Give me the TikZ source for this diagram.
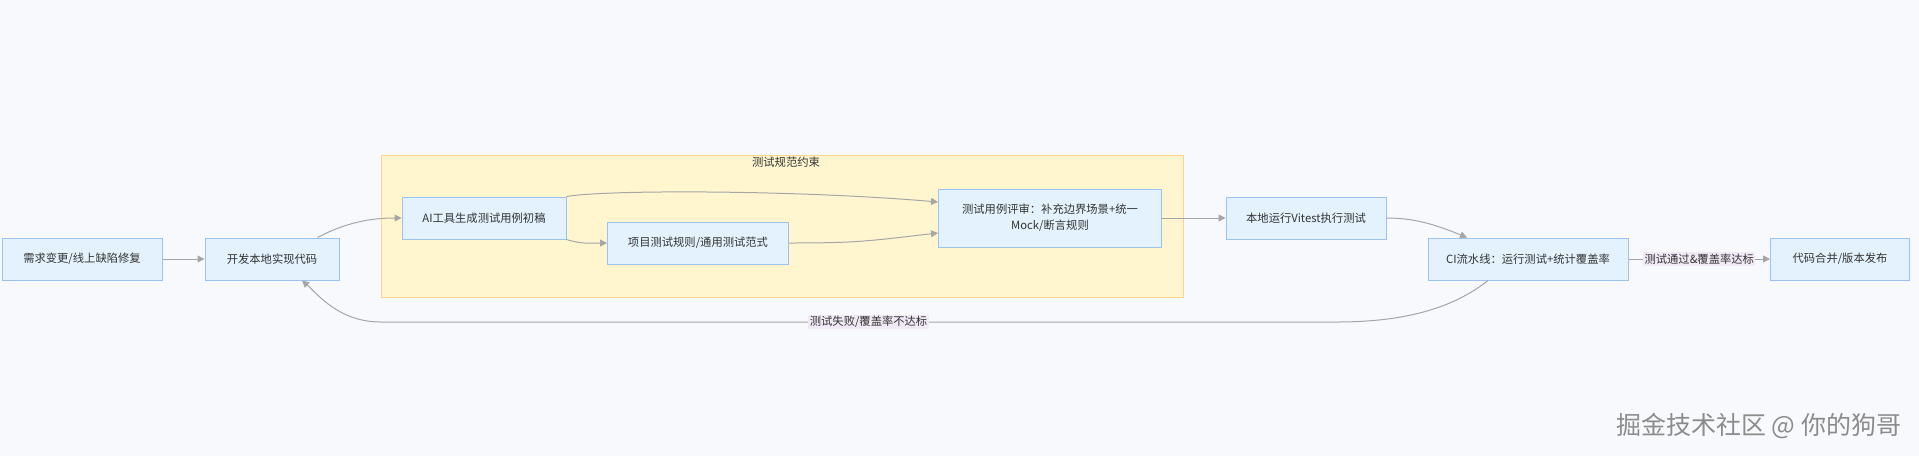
\documentclass[tikz,border=0pt]{standalone}
\usepackage{fontspec}
\setmainfont{Noto Sans CJK SC}
\usetikzlibrary{arrows.meta}
\definecolor{bgcol}{HTML}{F8F9FC}
\definecolor{boxfill}{HTML}{E3F2FD}
\definecolor{boxline}{HTML}{9CC3EE}
\definecolor{grpfill}{HTML}{FFF6CF}
\definecolor{grpline}{HTML}{F9D58E}
\definecolor{edgecol}{HTML}{A6A6A6}
\definecolor{lblfill}{HTML}{F1EAF6}
\definecolor{txtcol}{HTML}{333333}

\begin{document}
\begin{tikzpicture}[x = 1pt, y = -1pt, line width = 1pt,
                    box/.style = {rectangle, draw = boxline, fill = boxfill, minimum height = 42, inner sep = 0, text = txtcol, align = center, font = \fontsize{11.3}{16}\selectfont},
                    group/.style = {rectangle, draw = grpline, fill = grpfill, minimum width = 802, minimum height = 142, inner sep = 0},
                    flow/.style = {draw = edgecol, -{Triangle[length = 7pt, width = 7pt]}},
                    lbl/.style = {fill = lblfill, inner sep = 1.5, text = txtcol, font = \fontsize{11.3}{14}\selectfont}]
  \fill [bgcol] (0,0) rectangle (1919,456);

  \node [group] (G1) at (782,226) {};
  \node [text = txtcol, font = \fontsize{11.3}{14}\selectfont] (G1T) at (786,162) {测试规范约束};

  \node [box, minimum width = 160] (req) at (82,259) {需求变更/线上缺陷修复};
  \node [box, minimum width = 134] (dev) at (272,259) {开发本地实现代码};
  \node [box, minimum width = 164] (gen) at (484,218) {AI工具生成测试用例初稿};
  \node [box, minimum width = 181] (rule) at (698,243) {项目测试规则/通用测试范式};
  \node [box, minimum width = 223, minimum height = 58] (rev) at (1050,218) {测试用例评审：补充边界场景+统一\\Mock/断言规则};
  \node [box, minimum width = 160] (run) at (1306,218) {本地运行Vitest执行测试};
  \node [box, minimum width = 200] (ci) at (1528,259) {CI流水线：运行测试+统计覆盖率};
  \node [box, minimum width = 139] (rel) at (1840,259) {代码合并/版本发布};

  \draw [flow] (req) -- (dev);
  \draw [flow] ([xshift = -22]dev.north east) .. controls +(30,-16) and +(-28,0) .. (gen.west);
  \draw [flow] (gen.north east) .. controls +(40,-7) and +(-140,-12) .. ([yshift = 16]rev.west);
  \draw [flow] (gen.south east) .. controls +(16,5) and +(-16,0) .. (rule.west);
  \draw [flow] (rule.east) .. controls +(70,0) and +(-70,8) .. ([yshift = -15]rev.west);
  \draw [flow] (rev) -- (run);
  \draw [flow] (run.east) .. controls +(28,0) and +(-32,-13) .. ([xshift = -61]ci.north);
  \draw [flow] (ci) -- node [lbl] (L1) {测试通过\&覆盖率达标} (rel);
  \draw [flow] ([xshift = -40]ci.south) .. controls +(-28,22) and +(80,0) .. (1337,322)
    -- node [lbl, pos = 0.49] (L2) {测试失败/覆盖率不达标} (381,322)
    .. controls +(-42,0) and +(16,14) .. ([xshift = 30]dev.south);

  \node [anchor = east, text = black!45, font = \fontsize{25}{30}\selectfont] (WM) at (1905,426) {掘金技术社区 @ 你的狗哥};
\end{tikzpicture}
\end{document}
